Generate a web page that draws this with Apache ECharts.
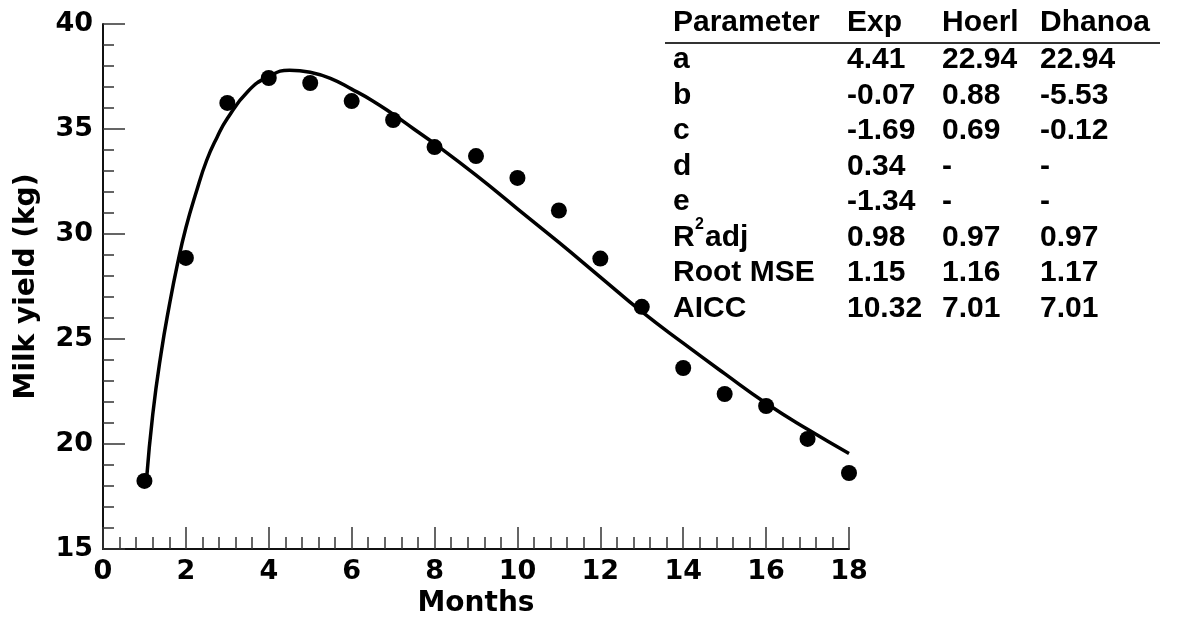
<!DOCTYPE html>
<html>
<head>
<meta charset="utf-8">
<script src="https://cdn.jsdelivr.net/npm/echarts@6/dist/echarts.min.js"></script>
<style>
  html, body { margin: 0; padding: 0; background: #fff; }
  #chart { width: 1177px; height: 619px; }
</style>
</head>
<body>
<div id="chart"></div>
<script>
// Observed monthly milk yield (kg)
var months = [1, 2, 3, 4, 5, 6, 7, 8, 9, 10, 11, 12, 13, 14, 15, 16, 17, 18];
var yieldObs = [18.24, 28.86, 36.24, 37.43, 37.19, 36.33, 35.43, 34.14, 33.71, 32.67, 31.12, 28.83, 26.53, 23.62, 22.38, 21.81, 20.24, 18.62];

// Fitted curve
var curveX = [1.05, 1.2, 1.4, 1.6, 1.8, 2.0, 2.25, 2.5, 2.75, 3.0, 3.5, 4.0, 4.5, 5.0, 5.5, 6.0, 6.5, 7.0, 7.5, 8.0, 9.0, 10.0, 11.0, 12.0, 13.0, 14.0, 15.0, 16.0, 17.0, 18.0];
var curveY = [18.3, 21.4, 24.3, 26.6, 28.6, 30.3, 32.0, 33.5, 34.6, 35.5, 36.8, 37.5, 37.8, 37.7, 37.4, 36.9, 36.35, 35.7, 35.0, 34.3, 32.8, 31.2, 29.6, 27.95, 26.3, 24.8, 23.35, 21.94, 20.7, 19.55];

// Parameter table
var tableHeader = ['Parameter', 'Exp', 'Hoerl', 'Dhanoa'];
var rowLabels = ['a', 'b', 'c', 'd', 'e', 'R2adj', 'Root MSE', 'AICC'];
var expVals = ['4.41', '-0.07', '-1.69', '0.34', '-1.34', '0.98', '1.15', '10.32'];
var hoerlVals = ['22.94', '0.88', '0.69', '-', '-', '0.97', '1.16', '7.01'];
var dhanoaVals = ['22.94', '-5.53', '-0.12', '-', '-', '0.97', '1.17', '7.01'];

var chart = echarts.init(document.getElementById('chart'));

var tFont = 'bold 30px "Liberation Sans", Arial, sans-serif';
var colX = [673, 847, 942, 1040];
var headerY = 23;
var rowY0 = 60, rowStep = 35.5;

function txt(x, y, s, font) {
  return {
    type: 'text', x: x, y: y, silent: true,
    style: { text: s, font: font || tFont, fill: '#000', textAlign: 'left', textVerticalAlign: 'middle' }
  };
}

var graphics = [];
tableHeader.forEach(function (h, i) { graphics.push(txt(colX[i], headerY, h)); });
graphics.push({
  type: 'line', silent: true,
  shape: { x1: 665, y1: 43, x2: 1160, y2: 43 },
  style: { stroke: '#333', lineWidth: 2 }
});
rowLabels.forEach(function (lab, i) {
  var y = rowY0 + i * rowStep;
  if (lab === 'R2adj') {
    graphics.push(txt(colX[0], y, 'R'));
    graphics.push(txt(colX[0] + 22, y - 13, '2', 'bold 16px "Liberation Sans", Arial, sans-serif'));
    graphics.push(txt(colX[0] + 32, y, 'adj'));
  } else {
    graphics.push(txt(colX[0], y, lab));
  }
  graphics.push(txt(colX[1], y, expVals[i]));
  graphics.push(txt(colX[2], y, hoerlVals[i]));
  graphics.push(txt(colX[3], y, dhanoaVals[i]));
});

var axisFont = { fontFamily: 'DejaVu Sans', fontWeight: 'bold', fontSize: 27, color: '#000' };
var nameFont = { fontFamily: 'DejaVu Sans', fontWeight: 'bold', fontSize: 28, color: '#000' };

chart.setOption({
  animation: false,
  backgroundColor: '#fff',
  grid: { left: 103, right: 328, top: 24, bottom: 70, containLabel: false, outerBoundsMode: 'none' },
  xAxis: {
    type: 'value', min: 0, max: 18, interval: 2,
    name: 'Months', nameLocation: 'middle', nameGap: 40,
    nameTextStyle: nameFont,
    axisLine: { show: true, lineStyle: { color: '#111', width: 2 } },
    axisTick: { show: true, inside: true, length: 22, lineStyle: { color: '#333', width: 1.5 } },
    minorTick: { show: true, splitNumber: 5, length: 12, lineStyle: { color: '#333', width: 1.5 } },
    axisLabel: Object.assign({ margin: 9 }, axisFont),
    splitLine: { show: false }
  },
  yAxis: {
    type: 'value', min: 15, max: 40, interval: 5,
    name: 'Milk yield (kg)', nameLocation: 'middle', nameGap: 62,
    nameTextStyle: nameFont,
    axisLine: { show: true, lineStyle: { color: '#111', width: 2 } },
    axisTick: { show: true, inside: true, length: 22, lineStyle: { color: '#333', width: 1.5 } },
    minorTick: { show: true, splitNumber: 5, length: 11, lineStyle: { color: '#333', width: 1.5 } },
    axisLabel: Object.assign({ margin: 10 }, axisFont),
    splitLine: { show: false }
  },
  series: [
    {
      type: 'line', name: 'fit', smooth: true, showSymbol: false, z: 2,
      lineStyle: { color: '#000', width: 3.5 },
      data: curveX.map(function (x, i) { return [x, curveY[i]]; })
    },
    {
      type: 'scatter', name: 'obs', symbol: 'circle', symbolSize: 16, z: 3,
      itemStyle: { color: '#000', opacity: 1 },
      data: months.map(function (m, i) { return [m, yieldObs[i]]; })
    }
  ],
  graphic: graphics
});
</script>
</body>
</html>
